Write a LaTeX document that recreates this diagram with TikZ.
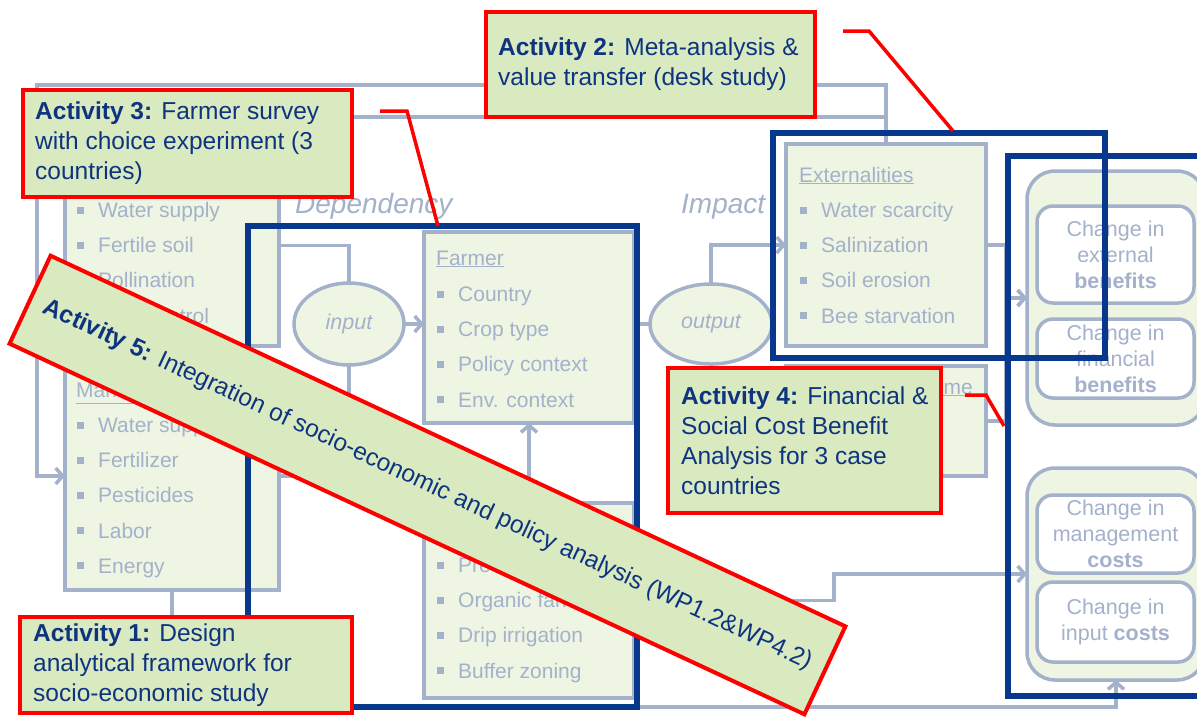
\documentclass[tikz,border=0pt]{standalone}
\usepackage{fontspec}
\setmainfont{Liberation Sans}
\usetikzlibrary{arrows.meta,shapes.geometric}
\definecolor{gl}{RGB}{164,177,203}
\definecolor{lg}{RGB}{238,245,227}
\definecolor{ag}{RGB}{217,234,193}
\definecolor{nv}{RGB}{8,56,140}
\definecolor{tn}{RGB}{14,52,128}
\definecolor{rd}{RGB}{255,0,0}
\tikzset{
  gbox/.style={draw=gl, line width=3.5pt, fill=lg, inner sep=0pt, outer sep=0pt, anchor=north west},
  wbox/.style={gbox, fill=white, rounded corners=16pt, align=center, text=gl, font=\fontsize{21.5}{26}\selectfont},
  grp/.style={gbox, rounded corners=28pt},
  gline/.style={draw=gl, line width=3.5pt},
  garrow/.style={gline, -{Straight Barb[length=7pt,width=16pt]}},
  itm/.style={text=gl, font=\fontsize{21}{25}\selectfont, anchor=base west, inner sep=0pt},
  ell/.style={draw=gl, line width=3.5pt, fill=lg, ellipse, inner sep=0pt, outer sep=0pt, text=gl, font=\fontsize{21.5}{25}\selectfont\itshape},
  lbl/.style={text=gl, font=\fontsize{28}{32}\selectfont\itshape, anchor=base west, inner sep=0pt},
  bluebox/.style={draw=nv, line width=6.5pt, inner sep=0pt, outer sep=0pt, anchor=north west},
  actbox/.style={draw=rd, line width=4pt, fill=ag, inner sep=0pt, outer sep=0pt, anchor=north west},
  acttext/.style={text=tn, font=\fontsize{24.5}{30}\selectfont, align=left, inner sep=0pt, anchor=west},
  rline/.style={draw=rd, line width=3.5pt},
}
\begin{document}
\begin{tikzpicture}[x=1pt,y=-1pt]
\useasboundingbox (0,0) rectangle (1197,716);
\clip (0,0) rectangle (1197,716);
\fill[white] (0,0) rectangle (1197,716);

% ---- gray boxes
\node[gbox, minimum width=214pt, minimum height=201pt] (eco) at (65,145) {};
\node[gbox, minimum width=214pt, minimum height=228pt] (market) at (65,362) {};
\node[gbox, minimum width=210pt, minimum height=191pt] (farmer) at (424,232) {};
\node[gbox, minimum width=210pt, minimum height=195pt] (mgmt) at (424,503) {};
\node[gbox, minimum width=200pt, minimum height=202pt] (ext) at (786,144) {};
\node[gbox, minimum width=200pt, minimum height=110pt] (income) at (786,366) {};
\node[ell, minimum width=110pt, minimum height=82pt] (input) at (349,324) {input};
\node[ell, minimum width=122pt, minimum height=80pt] (output) at (711,324) {output};

\node[grp, minimum width=178pt, minimum height=254pt] (bengrp) at (1027,171) {};
\node[grp, minimum width=178pt, minimum height=212pt] (costgrp) at (1027,468) {};
\node[wbox, minimum width=157pt, minimum height=97pt] (ben1) at (1037,206) {Change in\\external\\\textbf{benefits}};
\node[wbox, minimum width=157pt, minimum height=79pt] (ben2) at (1037,319) {Change in\\financial\\\textbf{benefits}};
\node[wbox, minimum width=157pt, minimum height=78pt] (cost1) at (1037,495) {Change in\\management\\\textbf{costs}};
\node[wbox, minimum width=157pt, minimum height=80pt] (cost2) at (1037,582) {Change in\\input \textbf{costs}};

% ---- box contents
\foreach \t [count=\i from 0] in {Water supply,Fertile soil,Pollination,Pest control}{
  \fill[gl] (77,210+35.2*\i-3.5) rectangle ++(7,7);
  \node[itm] (ecoi\i) at (98,217.5+35.2*\i) {\t};
}
\node[itm] (markethd) at (76,397) {\underline{Market inputs}};
\foreach \t [count=\i from 0] in {Water supply,Fertilizer,Pesticides,Labor,Energy}{
  \fill[gl] (77,425+35.2*\i-3.5) rectangle ++(7,7);
  \node[itm] (marketi\i) at (98,432.5+35.2*\i) {\t};
}
\node[itm] (farmerhd) at (436,265) {\underline{Farmer}};
\foreach \t [count=\i from 0] in {Country,Crop type,Policy context,Env. context}{
  \fill[gl] (437,294+35.2*\i-3.5) rectangle ++(7,7);
  \node[itm] (farmeri\i) at (458,301.5+35.2*\i) {\t};
}
\foreach \t [count=\i from 0] in {Precision farming,Organic farming,Drip irrigation,Buffer zoning}{
  \fill[gl] (437,565+35.2*\i-3.5) rectangle ++(7,7);
  \node[itm] (mgmti\i) at (458,572.5+35.2*\i) {\t};
}
\node[itm] (exthd) at (799,182) {\underline{Externalities}};
\foreach \t [count=\i from 0] in {Water scarcity,Salinization,Soil erosion,Bee starvation}{
  \fill[gl] (800,210+35.2*\i-3.5) rectangle ++(7,7);
  \node[itm] (exti\i) at (821,217.5+35.2*\i) {\t};
}
\node[itm, anchor=base east] (incomehd) at (973,394) {\underline{Farm net income}};

\node[lbl] (dep) at (295,213) {Dependency};
\node[lbl] (imp) at (681,213) {Impact};

% ---- gray connectors
\coordinate (tl) at (37,85);
\coordinate (t2) at (172,117);
\coordinate (bot) at (0,707);
\draw[garrow] (ext.north) |- (tl) |- (market.west);
\draw[garrow] (ext.north) |- (t2) -- (eco.north);
\draw[gline] (eco.east) -| (input.north);
\draw[gline] (market.east) -| (input.south);
\draw[garrow] (input.east) -- (input.east -| farmer.west);
\draw[gline] (output.west -| farmer.east) -- (output.west);
\draw[garrow] (output.north) |- (ext.west);
\draw[garrow] (output.south) |- (income.west);
\draw[garrow] (ext.east) -- ++(20,0) |- (bengrp.west);
\draw[garrow] (income.east) -- ++(20,0) |- (bengrp.west);
\draw[garrow] (mgmt.north) -- (farmer.south);
\draw[garrow] (mgmt.east) -- ++(200,0) |- (costgrp.west);
\draw[garrow] (market.south) |- (costgrp.south |- bot) -- (costgrp.south);

% ---- blue boxes
\node[bluebox, minimum width=389pt, minimum height=481pt] (blueA) at (248,226) {};
\node[bluebox, minimum width=332pt, minimum height=225pt] (blueB) at (773,133) {};
\node[bluebox, minimum width=200pt, minimum height=540pt] (blueC) at (1008,156) {};

% ---- activities
\node[actbox, minimum width=329pt, minimum height=105pt] (act2) at (486,12) {};
\node[acttext] (act2t) at ([xshift=12pt]act2.west) {\textbf{Activity 2:} Meta-analysis \&\\value transfer (desk study)};
\node[actbox, minimum width=329pt, minimum height=107pt] (act3) at (23,90) {};
\node[acttext] (act3t) at ([xshift=12pt]act3.west) {\textbf{Activity 3:} Farmer survey\\with choice experiment (3\\countries)};
\node[actbox, minimum width=273pt, minimum height=145pt] (act4) at (668,368) {};
\node[acttext] (act4t) at ([xshift=13pt]act4.west) {\textbf{Activity 4:} Financial \&\\Social Cost Benefit\\Analysis for 3 case\\countries};
\node[actbox, minimum width=332pt, minimum height=96pt] (act1) at (20,617) {};
\node[acttext] (act1t) at ([xshift=13pt]act1.west) {\textbf{Activity 1:} Design\\analytical framework for\\socio-economic study};
\node[actbox, anchor=center, rotate=-25, minimum width=877pt, minimum height=97pt, text=tn, font=\fontsize{24.5}{28}\selectfont] (act5) at (427.5,485) {\textbf{Activity 5:} Integration of socio-economic and policy analysis (WP1.2\&WP4.2)};

% ---- callouts
\coordinate (c2a) at (843,31); \coordinate (c2b) at (869,31); \coordinate (c2c) at (953,131);
\coordinate (c3a) at (380,111); \coordinate (c3b) at (407,111); \coordinate (c3c) at (438,226);
\coordinate (c4a) at (965,395); \coordinate (c4b) at (986,395); \coordinate (c4c) at (1004,426);
\draw[rline] (c2a) -- (c2b) -- (c2c);
\draw[rline] (c3a) -- (c3b) -- (c3c);
\draw[rline] (c4a) -- (c4b) -- (c4c);
\end{tikzpicture}
\end{document}
